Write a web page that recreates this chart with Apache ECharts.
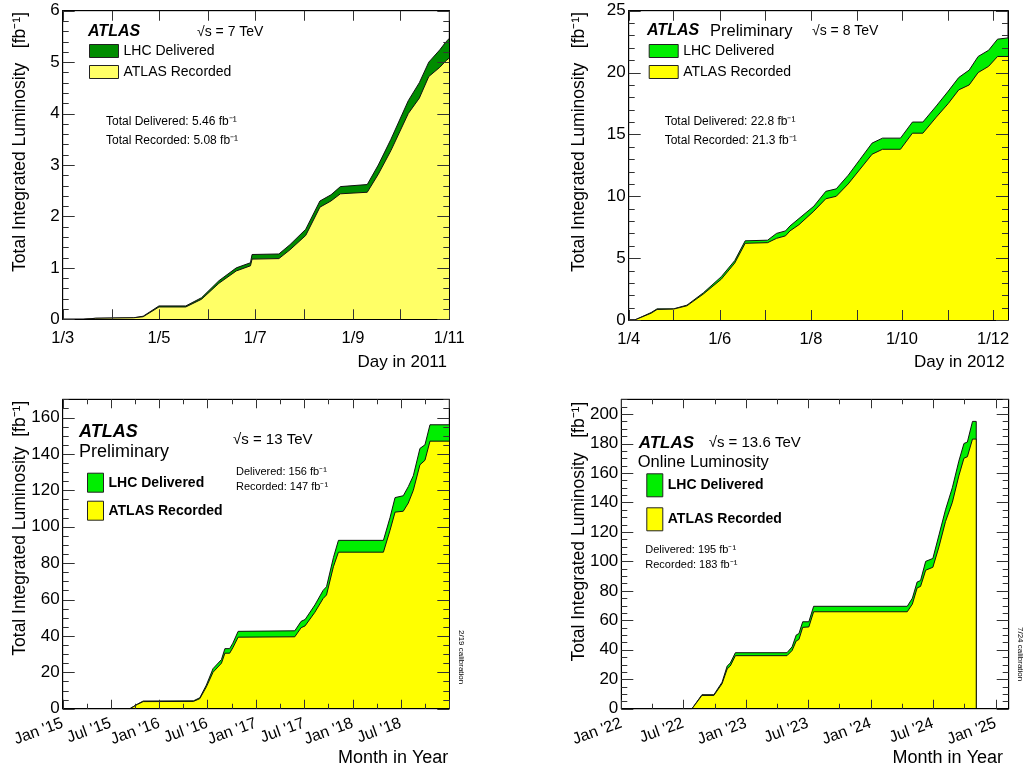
<!DOCTYPE html>
<html><head><meta charset="utf-8">
<script src="https://cdn.jsdelivr.net/npm/echarts@6/dist/echarts.min.js"></script>
<style>html,body{margin:0;padding:0;background:#fff}#c{width:1025px;height:773px}</style>
</head><body><div id="c"></div>
<script>
const FONT = '"Liberation Sans", Arial, Helvetica, sans-serif';

// ---------- Panel 1: 2011, 7 TeV ----------
const p1Dates = ['2011-03-01','2011-03-14','2011-03-22','2011-04-15','2011-04-21','2011-05-01','2011-05-18','2011-05-28','2011-06-08','2011-06-19','2011-06-28','2011-06-29','2011-07-16','2011-07-23','2011-08-02','2011-08-11','2011-08-18','2011-08-24','2011-09-10','2011-09-17','2011-09-25','2011-10-06','2011-10-13','2011-10-19','2011-10-26','2011-10-30','2011-11-01'];
const p1Delivered = [0,0,0.02,0.03,0.06,0.26,0.26,0.42,0.75,1.0,1.1,1.26,1.27,1.45,1.75,2.3,2.42,2.58,2.62,3.0,3.5,4.25,4.6,5.0,5.24,5.4,5.46];
const p1Recorded  = [0,0,0.02,0.03,0.05,0.24,0.24,0.39,0.7,0.94,1.04,1.17,1.18,1.35,1.63,2.18,2.3,2.44,2.47,2.82,3.28,4.0,4.3,4.72,4.9,5.03,5.08];
const p1TickDates = ['2011-03-01','2011-04-01','2011-05-01','2011-06-01','2011-07-01','2011-08-01','2011-09-01','2011-10-01','2011-11-01'];
const p1LabelDates = ['2011-03-01','2011-05-01','2011-07-01','2011-09-01','2011-11-01'];
const p1TickLabels = ['1/3','1/5','1/7','1/9','1/11'];
const p1YTicks = [0,1,2,3,4,5,6];

// ---------- Panel 2: 2012, 8 TeV ----------
const p2Dates = ['2012-04-01','2012-04-05','2012-04-16','2012-04-20','2012-05-01','2012-05-10','2012-05-21','2012-06-02','2012-06-11','2012-06-18','2012-07-03','2012-07-09','2012-07-15','2012-07-18','2012-07-24','2012-08-03','2012-08-11','2012-08-18','2012-08-26','2012-09-03','2012-09-11','2012-09-18','2012-09-30','2012-10-08','2012-10-15','2012-10-24','2012-11-01','2012-11-08','2012-11-15','2012-11-21','2012-11-28','2012-12-04','2012-12-11'];
const p2Delivered = [0,0,0.6,0.9,0.9,1.2,2.2,3.5,4.8,6.4,6.45,7.0,7.2,7.6,8.2,9.2,10.4,10.6,11.7,13.0,14.3,14.7,14.7,16.0,16.0,17.3,18.5,19.6,20.2,21.3,21.8,22.7,22.8];
const p2Recorded  = [0,0,0.55,0.85,0.88,1.15,2.1,3.3,4.6,6.2,6.25,6.6,6.8,7.2,7.7,8.8,9.8,10.0,11.0,12.2,13.4,13.8,13.8,15.1,15.1,16.4,17.5,18.6,19.0,20.0,20.5,21.3,21.3];
const p2TickDates = ['2012-04-01','2012-05-01','2012-06-01','2012-07-01','2012-08-01','2012-09-01','2012-10-01','2012-11-01','2012-12-01'];
const p2LabelDates = ['2012-04-01','2012-06-01','2012-08-01','2012-10-01','2012-12-01'];
const p2TickLabels = ['1/4','1/6','1/8','1/10','1/12'];
const p2YTicks = [0,5,10,15,20,25];

// ---------- Panel 3: 2015-2018, 13 TeV ----------
const p3Dates = ['2015-01-01','2015-09-12','2015-10-10','2015-11-01','2016-05-09','2016-06-02','2016-06-27','2016-07-22','2016-08-23','2016-09-05','2016-09-23','2016-10-05','2016-10-25','2017-05-27','2017-06-20','2017-07-05','2017-08-11','2017-09-11','2017-09-24','2017-10-20','2017-11-08','2018-04-27','2018-05-22','2018-06-10','2018-07-11','2018-07-30','2018-08-18','2018-09-12','2018-10-01','2018-10-20','2019-01-01'];
const p3Delivered = [0,0,2.5,4.2,4.3,6,13,22,27,33,33,36,42.5,42.8,48,49,57,65,67,83,92.5,92.5,105,116,117,122,128,143,145,156,156];
const p3Recorded  = [0,0,2.3,3.9,4.0,5.5,12,20,25,30.5,30.5,33.5,39.3,39.5,44.5,45.5,53,60.5,62.5,78,86,86,98,108,108.5,113,120,134,136.5,147,147];
const p3MajorTickDates = ['2015-01-01','2015-07-01','2016-01-01','2016-07-01','2017-01-01','2017-07-01','2018-01-01','2018-07-01','2019-01-01'];
const p3MinorTickDates = ['2015-04-01','2015-10-01','2016-04-01','2016-10-01','2017-04-01','2017-10-01','2018-04-01','2018-10-01'];
const p3LabelDates = ['2015-01-01','2015-07-01','2016-01-01','2016-07-01','2017-01-01','2017-07-01','2018-01-01','2018-07-01'];
const p3TickLabels = ["Jan '15","Jul '15","Jan '16","Jul '16","Jan '17","Jul '17","Jan '18","Jul '18"];
const p3YTicks = [0,20,40,60,80,100,120,140,160];

// ---------- Panel 4: 2022-2024, 13.6 TeV ----------
const p4Dates = ['2022-01-01','2022-07-27','2022-08-25','2022-09-29','2022-10-23','2022-11-07','2022-11-16','2022-12-01','2023-05-01','2023-05-16','2023-05-28','2023-06-05','2023-06-16','2023-07-04','2023-07-18','2024-04-17','2024-05-02','2024-05-16','2024-05-26','2024-06-10','2024-07-01','2024-07-19','2024-08-07','2024-08-27','2024-09-15','2024-09-30','2024-10-10','2024-10-25','2024-11-05','2024-11-05'];
const p4Delivered = [0,0,9.5,9.5,18,29,31,38,38,42,50,51,59,59,69.5,69.5,75,86,87,100,102,118,135,150,168,180,181,195,195,0];
const p4Recorded  = [0,0,9,9,17,27,29,36,36,39.5,46,47,55.2,55.5,65.8,65.8,71,82,83,94,96,110,127,140,158,170,171,183,183,0];
const p4MajorTickDates = ['2022-01-01','2022-07-01','2023-01-01','2023-07-01','2024-01-01','2024-07-01','2025-01-01'];
const p4MinorTickDates = ['2022-04-01','2022-10-01','2023-04-01','2023-10-01','2024-04-01','2024-10-01'];
const p4LabelDates = ['2022-01-01','2022-07-01','2023-01-01','2023-07-01','2024-01-01','2024-07-01','2025-01-01'];
const p4TickLabels = ["Jan '22","Jul '22","Jan '23","Jul '23","Jan '24","Jul '24","Jan '25"];
const p4YTicks = [0,20,40,60,80,100,120,140,160,180,200];

function T(s){const p=s.split('-');return Date.UTC(+p[0],+p[1]-1,+p[2]);}
function pairs(d,v){return d.map((s,i)=>[T(s),v[i]]);}

const panels = [
  {grid:{left:62.7,top:10.7,width:386.6,height:308.6}, xMin:'2011-03-01', xMax:'2011-11-01',
   major:p1TickDates, minor:[], labelDates:p1LabelDates, labels:p1TickLabels, rotate:0, xLab:{fs:16.5,margin:11},
   xLen:10, yMax:6, yTicks:p1YTicks, yMinor:0.2, dates:p1Dates, del:p1Delivered, rec:p1Recorded,
   cDel:'#008c00', cRec:'#ffff66', tag:'2011'},
  {grid:{left:628.7,top:10.7,width:379.3,height:309.3}, xMin:'2012-04-01', xMax:'2012-12-11',
   major:p2TickDates, minor:[], labelDates:p2LabelDates, labels:p2TickLabels, rotate:0, xLab:{fs:16.5,margin:11},
   xLen:10, yMax:25, yTicks:p2YTicks, yMinor:1, dates:p2Dates, del:p2Delivered, rec:p2Recorded,
   cDel:'#00ee00', cRec:'#ffff00', tag:'2012'},
  {grid:{left:62.7,top:399.3,width:386.6,height:309.4}, xMin:'2015-01-01', xMax:'2019-01-01',
   major:p3MajorTickDates, minor:p3MinorTickDates, labelDates:p3LabelDates, labels:p3TickLabels, rotate:20, xLab:{fs:16,margin:14},
   xLen:9, yMax:170, yTicks:p3YTicks, yMinor:5, dates:p3Dates, del:p3Delivered, rec:p3Recorded,
   cDel:'#00ee00', cRec:'#ffff00', tag:'run2'},
  {grid:{left:621.3,top:399.3,width:387.4,height:309.4}, xMin:'2022-01-01', xMax:'2025-02-08',
   major:p4MajorTickDates, minor:p4MinorTickDates, labelDates:p4LabelDates, labels:p4TickLabels, rotate:20, xLab:{fs:16,margin:14},
   xLen:9, yMax:210, yTicks:p4YTicks, yMinor:5, dates:p4Dates, del:p4Delivered, rec:p4Recorded,
   cDel:'#00ee00', cRec:'#ffff00', tag:'run3'}
];

const TICK = '#333', LINE = '#000';
const grid=[], xAxis=[], yAxis=[], series=[];
const axisIdx=[];

panels.forEach((p,i)=>{
  grid.push(Object.assign({show:true,borderColor:LINE,borderWidth:1,backgroundColor:'transparent'},p.grid));
  const lab = new Map(p.labelDates.map((d,k)=>[T(d),p.labels[k]]));
  const x0=T(p.xMin), x1=T(p.xMax);
  const xBase = {gridIndex:i,type:'value',min:x0,max:x1,splitLine:{show:false},z:5,axisTick:{show:false}};
  const mainX = xAxis.length;
  xAxis.push(Object.assign({},xBase,{position:'bottom',
    axisLine:{show:true,onZero:false,lineStyle:{color:LINE,width:1}},
    axisLabel:{show:true,customValues:p.labelDates.map(T),formatter:v=>lab.get(v)||'',rotate:p.rotate,
      margin:p.xLab.margin,fontSize:p.xLab.fs,fontFamily:FONT,color:'#000'}}));
  xAxis.push(Object.assign({},xBase,{position:'top',
    axisLine:{show:true,onZero:false,lineStyle:{color:LINE,width:1}},axisLabel:{show:false}}));
  const yBase = {gridIndex:i,type:'value',min:0,max:p.yMax,splitLine:{show:false},z:5,axisTick:{show:false}};
  const mainY = yAxis.length;
  yAxis.push(Object.assign({},yBase,{position:'left',
    axisLine:{show:true,onZero:false,lineStyle:{color:LINE,width:1}},
    axisLabel:{show:true,customValues:p.yTicks,margin:3,fontSize:17,fontFamily:FONT,color:'#000'}}));
  yAxis.push(Object.assign({},yBase,{position:'right',
    axisLine:{show:true,onZero:false,lineStyle:{color:LINE,width:1}},axisLabel:{show:false}}));
  axisIdx.push({x:mainX,y:mainY});

  series.push({name:'LHC Delivered|'+p.tag,type:'line',xAxisIndex:mainX,yAxisIndex:mainY,
    data:pairs(p.dates,p.del),showSymbol:false,symbol:'none',z:2,
    itemStyle:{color:p.cDel},lineStyle:{color:'#111',width:1},areaStyle:{color:p.cDel,opacity:1}});
  series.push({name:'ATLAS Recorded|'+p.tag,type:'line',xAxisIndex:mainX,yAxisIndex:mainY,
    data:pairs(p.dates,p.rec),showSymbol:false,symbol:'none',z:3,
    itemStyle:{color:p.cRec},lineStyle:{color:'#111',width:1},areaStyle:{color:p.cRec,opacity:1}});
});

function leg(tag,left,top,w,h,gap,bold){
  return {orient:'vertical',left:left,top:top,padding:0,itemWidth:w,itemHeight:h,itemGap:gap,icon:'rect',
    selectedMode:false,data:['LHC Delivered|'+tag,'ATLAS Recorded|'+tag],
    formatter:n=>n.split('|')[0],
    itemStyle:{borderColor:'#222',borderWidth:1},
    textStyle:{fontSize:14,fontFamily:FONT,color:'#000',fontWeight:bold?'bold':'normal'}};
}
const legend=[leg('2011',89,44,29,13,7,false),leg('2012',648.7,44,29,13,7,false),
  leg('run2',87,472.7,16,19,8,true),leg('run3',646.3,473.3,16,23,10,true)];

function txt(x,y,text,fs,o){
  o=o||{};
  return {type:'text',x:x,y:y,rotation:o.rot||0,z:10,silent:true,style:{text:text,fontSize:fs,fontFamily:FONT,
    fontWeight:o.w||'normal',fontStyle:o.it?'italic':'normal',fill:'#000',align:o.al||'left',verticalAlign:'middle'}};
}
const YT1='Total Integrated Luminosity   [fb⁻¹]';
const YT3='Total Integrated Luminosity  [fb⁻¹]';
const graphic=[
  txt(88,32,'ATLAS',16,{w:'bold',it:true}), txt(197,32,'√s = 7 TeV',14),
  txt(106,122,'Total Delivered: 5.46 fb⁻¹',12), txt(106,141,'Total Recorded: 5.08 fb⁻¹',12),
  txt(447,362,'Day in 2011',17,{al:'right'}), txt(20,12,YT1,17.5,{rot:Math.PI/2,al:'right'}),

  txt(647,31,'ATLAS',16,{w:'bold',it:true}), txt(710,31,'Preliminary',16.5), txt(812,31,'√s = 8 TeV',14),
  txt(664.7,122,'Total Delivered: 22.8 fb⁻¹',12), txt(664.7,141,'Total Recorded: 21.3 fb⁻¹',12),
  txt(1004.7,362,'Day in 2012',17,{al:'right'}), txt(578.7,12,YT1,17.5,{rot:Math.PI/2,al:'right'}),

  txt(79,431.7,'ATLAS',18,{w:'bold',it:true}), txt(79,451.7,'Preliminary',18), txt(233,440,'√s = 13 TeV',15),
  txt(236,472,'Delivered: 156 fb⁻¹',11), txt(236,487.3,'Recorded: 147 fb⁻¹',11),
  txt(448.3,758.3,'Month in Year',18,{al:'right'}), txt(20,400.7,YT3,17.5,{rot:Math.PI/2,al:'right'}),
  txt(461,630,'2/19 calibration',8,{rot:-Math.PI/2}),

  txt(638.7,443.3,'ATLAS',17,{w:'bold',it:true}), txt(708.7,443.3,'√s = 13.6 TeV',15), txt(637.7,462.7,'Online Luminosity',16.5),
  txt(645.3,550,'Delivered: 195 fb⁻¹',11), txt(645.3,565,'Recorded: 183 fb⁻¹',11),
  txt(1003,758.3,'Month in Year',18,{al:'right'}), txt(578.7,401.7,YT1,17.5,{rot:Math.PI/2,al:'right'}),
  txt(1020,627,'7/24 calibration',8,{rot:-Math.PI/2})
];

const chart = echarts.init(document.getElementById('c'),null,{renderer:'canvas'});
chart.setOption({animation:false,backgroundColor:'#fff',textStyle:{fontFamily:FONT},
  grid:grid,xAxis:xAxis,yAxis:yAxis,series:series,legend:legend,graphic:graphic});

// Tick marks on all four frame sides, positioned through each panel's axis scales,
// drawn as thin filled bars on their own top layer.
function tk(x,y,w,h){return {type:'rect',silent:true,zlevel:1,z:100,shape:{x:x,y:y,width:w,height:h},style:{fill:TICK}};}
const ticks=[];
panels.forEach((p,i)=>{
  const finder={xAxisIndex:axisIdx[i].x,yAxisIndex:axisIdx[i].y};
  const x0=T(p.xMin), x1=T(p.xMax);
  const xt=p.major.map(d=>[T(d),p.xLen]).concat(p.minor.map(d=>[T(d),5]));
  xt.forEach(([v,len])=>{
    const b=chart.convertToPixel(finder,[v,0]), t=chart.convertToPixel(finder,[v,p.yMax]);
    const bx=Math.round(b[0]);
    ticks.push(tk(bx,b[1]-len,1,len), tk(bx,t[1],1,len));
  });
  const n=Math.round(p.yMax/p.yMinor);
  for(let k=0;k<=n;k++){
    const v=+(k*p.yMinor).toFixed(4);
    const len=p.yTicks.some(m=>Math.abs(m-v)<1e-6)?12:6;
    const l=chart.convertToPixel(finder,[x0,v]), r=chart.convertToPixel(finder,[x1,v]);
    const ly=Math.round(l[1]);
    ticks.push(tk(l[0],ly,len,1), tk(r[0]-len,ly,len,1));
  }
});
chart.setOption({graphic:graphic.concat(ticks)});
</script></body></html>
